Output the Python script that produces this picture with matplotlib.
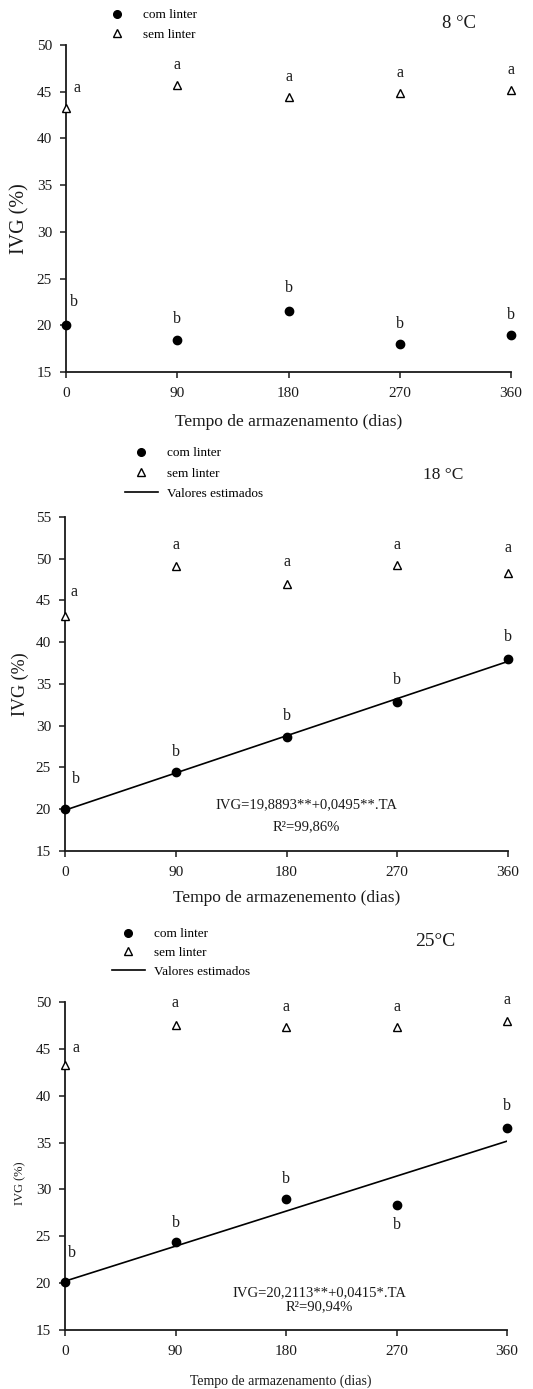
import matplotlib
matplotlib.use('Agg')
import matplotlib.pyplot as plt
from matplotlib.lines import Line2D
import numpy as np

plt.rcParams['font.family'] = ['Liberation Serif', 'DejaVu Serif']

# ---- data ----
days = [0, 90, 180, 270, 360]

com_8 = [20.0, 18.4, 21.5, 18.0, 19.0]
sem_8 = [43.3, 45.7, 44.4, 44.9, 45.2]

com_18 = [20.0, 24.5, 28.7, 32.8, 38.0]
sem_18 = [43.2, 49.1, 47.0, 49.2, 48.3]

com_25 = [20.1, 24.4, 29.0, 28.3, 36.6]
sem_25 = [43.3, 47.5, 47.3, 47.3, 48.0]

letters_com = ['b', 'b', 'b', 'b', 'b']
letters_sem = ['a', 'a', 'a', 'a', 'a']

# regression (intercept, slope) as printed on the chart
fit_18 = (19.8893, 0.0495)
fit_25 = (20.2113, 0.0415)
eq_18 = ['IVG=19,8893**+0,0495**.TA', 'R²=99,86%']
eq_25 = ['IVG=20,2113**+0,0415*.TA', 'R²=90,94%']

# ---- layout helpers (pixels of a 533 x 1389 canvas) ----
W, H = 533, 1389
INK = '#1a1a1a'

fig = plt.figure(figsize=(W / 100, H / 100), dpi=100)


def px(x, y):
    return x / W, 1 - y / H


def make_axes(left, right, top, bottom):
    return fig.add_axes([left / W, 1 - bottom / H, (right - left) / W, (bottom - top) / H])


def style_axes(ax, ymax):
    ax.set_xlim(0, 360)
    ax.set_ylim(15, ymax)
    ax.set_xticks(days)
    ax.set_yticks(np.arange(15, ymax + 1, 5))
    for s in ('top', 'right'):
        ax.spines[s].set_visible(False)
    for s in ('left', 'bottom'):
        ax.spines[s].set_linewidth(1.3)
        ax.spines[s].set_color(INK)
    ax.tick_params(axis='both', direction='out', length=4, width=1.1,
                   colors=INK, labelsize=11)
    ax.tick_params(axis='x', pad=7)
    ax.tick_params(axis='y', pad=6)


def draw_points(ax, com, sem, com_off, sem_off):
    ax.plot(days, com, 'o', color='black', ms=6, clip_on=False, zorder=5)
    ax.plot(days, sem, '^', mfc='white', mec='black', mew=1.0, ms=6,
            clip_on=False, zorder=5)
    for x, y, t, o in zip(days, com, letters_com, com_off):
        ax.annotate(t, (x, y), xytext=o, textcoords='offset pixels',
                    ha='center', va='center', fontsize=11.5, color=INK)
    for x, y, t, o in zip(days, sem, letters_sem, sem_off):
        ax.annotate(t, (x, y), xytext=o, textcoords='offset pixels',
                    ha='center', va='center', fontsize=11.5, color=INK)


def draw_legend(ax, anchor, with_line, spacing):
    handles = [
        Line2D([], [], ls='none', marker='o', color='black', ms=5.5),
        Line2D([], [], ls='none', marker='^', mfc='white', mec='black', mew=1.0, ms=5.5),
    ]
    labels = ['com linter', 'sem linter']
    if with_line:
        handles.append(Line2D([], [], color='black', lw=1.2))
        labels.append('Valores estimados')
    ax.legend(handles, labels, loc='upper left', bbox_to_anchor=px(*anchor),
              bbox_transform=fig.transFigure, frameon=False, fontsize=9.5,
              handlelength=2.5, handletextpad=0.7, labelspacing=spacing,
              borderpad=0, borderaxespad=0)


# ---- panel 1: 8 °C ----
ax1 = make_axes(66, 511, 45, 372)
style_axes(ax1, 50)
draw_points(ax1, com_8, sem_8,
            [(8, 23), (0, 21), (0, 23), (0, 20), (0, 20)],
            [(11, 20), (0, 20), (0, 20), (0, 20), (0, 20)])
draw_legend(ax1, (101, 9), False, 0.55)
ax1.set_xlabel('Tempo de armazenamento (dias)', fontsize=12.5, color=INK)
ax1.xaxis.set_label_coords(0.5, (372 - 422) / 327)
ax1.xaxis.label.set_va('center')
ax1.set_ylabel('IVG (%)', fontsize=14.5, color=INK, va='center')
ax1.yaxis.set_label_coords((20 - 66) / 445, 0.47)
fig.text(*px(459, 23), '8 °C', ha='center', va='center', fontsize=13.5, color=INK)

# ---- panel 2: 18 °C ----
ax2 = make_axes(65, 508, 517, 851)
style_axes(ax2, 55)
x_fit = np.array([days[0], days[-1]])
ax2.plot(x_fit, fit_18[0] + fit_18[1] * x_fit, color='black', lw=1.2, zorder=4)
draw_points(ax2, com_18, sem_18,
            [(11, 30), (0, 20), (0, 21), (0, 22), (0, 22)],
            [(9, 24), (0, 21), (0, 22), (0, 20), (0, 25)])
draw_legend(ax2, (125, 447), True, 0.62)
ax2.set_xlabel('Tempo de armazenemento (dias)', fontsize=12.5, color=INK)
ax2.xaxis.set_label_coords(0.5, (851 - 898) / 334)
ax2.xaxis.label.set_va('center')
ax2.set_ylabel('IVG (%)', fontsize=13, color=INK, va='center')
ax2.yaxis.set_label_coords((20 - 65) / 443, 0.5)
ax2.text((306 - 65) / 443, (851 - 805) / 334, eq_18[0], transform=ax2.transAxes,
         ha='center', va='center', fontsize=10.5, color=INK)
ax2.text((306 - 65) / 443, (851 - 827) / 334, eq_18[1], transform=ax2.transAxes,
         ha='center', va='center', fontsize=10.5, color=INK)
fig.text(*px(443, 475), '18 °C', ha='center', va='center', fontsize=12.5, color=INK)

# ---- panel 3: 25 °C ----
ax3 = make_axes(65, 507, 1002, 1330)
style_axes(ax3, 50)
ax3.plot(x_fit, fit_25[0] + fit_25[1] * x_fit, color='black', lw=1.2, zorder=4)
draw_points(ax3, com_25, sem_25,
            [(7, 29), (0, 19), (0, 20), (0, -20), (0, 22)],
            [(11, 17), (0, 22), (0, 20), (0, 20), (0, 21)])
draw_legend(ax3, (112, 928), True, 0.5)
ax3.set_xlabel('Tempo de armazenamento (dias)', fontsize=10, color=INK)
ax3.xaxis.set_label_coords((281 - 65) / 442, (1330 - 1381) / 328)
ax3.xaxis.label.set_va('center')
ax3.set_ylabel('IVG (%)', fontsize=9, color=INK, va='center')
ax3.yaxis.set_label_coords((20 - 65) / 442, (1330 - 1183) / 328)
ax3.text((319 - 65) / 442, (1330 - 1293) / 328, eq_25[0], transform=ax3.transAxes,
         ha='center', va='center', fontsize=10.5, color=INK)
ax3.text((319 - 65) / 442, (1330 - 1307) / 328, eq_25[1], transform=ax3.transAxes,
         ha='center', va='center', fontsize=10.5, color=INK)
fig.text(*px(435, 942), '25°C', ha='center', va='center', fontsize=14, color=INK)

fig.savefig('out.png', dpi=100)
